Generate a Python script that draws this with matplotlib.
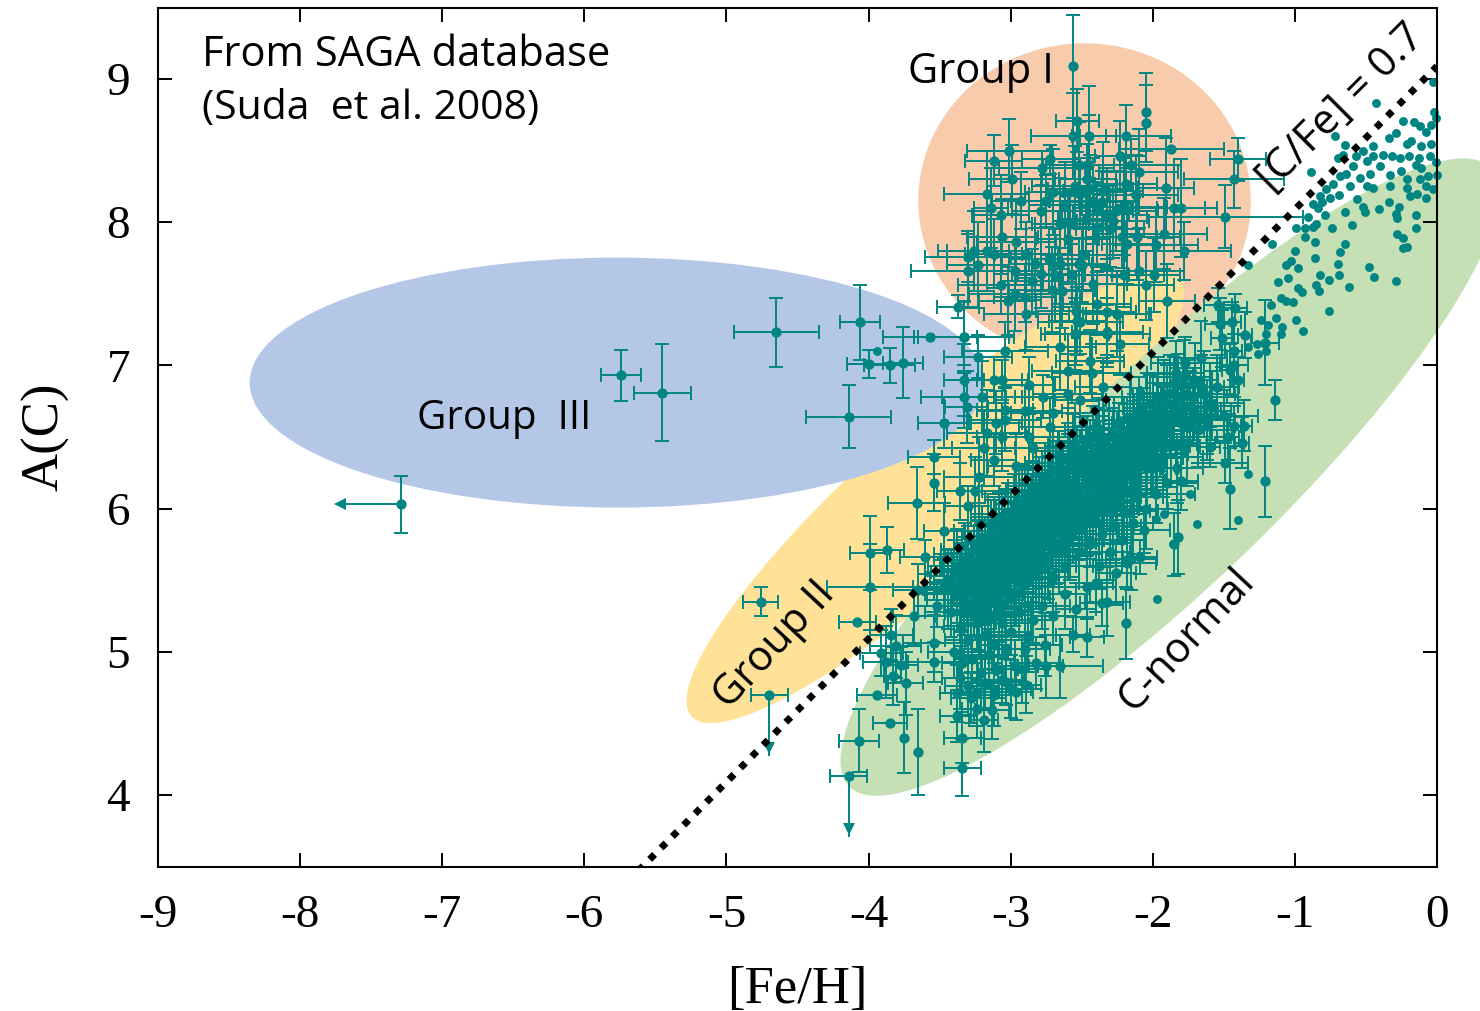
import matplotlib
matplotlib.use("Agg")
import matplotlib.pyplot as plt
from matplotlib.patches import Ellipse

TEAL = '#008682'

# ---- group I cloud
g1_feh = [-2.56,-2.05,-2.05,-2.53,-2.56,-2.45,-2.19,-1.87,-3.12,-3.01,
          -2.99,-3.17,-3.14,-3.07,-2.93,-2.78,-2.72,-2.52,-2.45,-2.46,
          -2.23,-2.15,-2.10,-1.91,-1.85,-1.80,-1.92,-1.78,-1.40,-1.43,
          -1.49,-2.70,-2.75,-2.79,-2.65,-2.58,-2.51,-2.42,-2.39,-2.32,
          -2.39,-2.28,-2.20,-2.12,-2.19,-3.26,-3.30,-3.17,-3.12,-3.06,
          -2.96,-2.89,-3.23,-3.30,-2.97,-2.83,-2.73,-2.65,-2.52,-2.49,
          -3.07,-2.97,-3.02,-2.90,-2.89,-2.85,-2.71,-2.64,-2.79,-2.69,
          -2.57,-2.42,-2.20,-2.10,-1.99,-2.05,-2.22,-2.11,-2.18,-1.98,
          -1.90,-2.39,-2.54,-2.51,-2.32,-2.25,-2.54,-2.32,-3.37,-3.33,
          -2.62,-2.55,-2.47,-2.35,-2.30,-2.44,-2.60,-2.36,-2.26,-2.50]
g1_ac = [9.09,8.77,8.69,8.71,8.60,8.60,8.60,8.51,8.43,8.50,
         8.30,8.20,8.10,8.05,8.15,8.38,8.44,8.40,8.40,8.30,
         8.46,8.40,8.35,8.24,8.10,8.10,7.92,7.80,8.44,8.30,
         8.04,8.21,8.15,8.08,7.99,7.99,8.20,8.15,8.08,8.06,
         7.97,8.01,8.11,8.19,8.27,7.80,7.76,7.80,7.78,7.90,
         7.86,7.78,7.70,7.66,7.66,7.71,7.74,7.71,7.71,7.77,
         7.56,7.50,7.45,7.48,7.36,7.59,7.53,7.52,7.64,7.63,
         7.63,7.57,7.63,7.66,7.63,7.56,7.90,7.90,7.85,7.84,
         7.45,7.43,7.38,7.30,7.37,7.36,7.22,7.23,7.41,7.20,
         8.12,8.25,8.02,8.22,7.95,8.23,7.88,8.14,8.08,7.70]
g1_xerr = [0.00,0.00,0.00,0.15,0.30,0.12,0.32,0.37,0.20,0.30,
           0.30,0.30,0.12,0.20,0.20,0.30,0.20,0.25,0.30,0.20,
           0.18,0.30,0.28,0.20,0.30,0.17,0.30,0.33,0.20,0.35,
           0.55,0.20,0.25,0.20,0.20,0.25,0.20,0.30,0.25,0.15,
           0.20,0.25,0.30,0.30,0.22,0.25,0.30,0.28,0.20,0.25,
           0.28,0.22,0.22,0.40,0.20,0.18,0.28,0.22,0.20,0.30,
           0.30,0.32,0.20,0.22,0.30,0.22,0.30,0.25,0.20,0.26,
           0.28,0.24,0.28,0.32,0.18,0.20,0.25,0.30,0.18,0.30,
           0.20,0.24,0.28,0.30,0.20,0.24,0.22,0.25,0.15,0.35,
           0.25,0.30,0.20,0.28,0.24,0.30,0.22,0.26,0.30,0.20]
g1_yerr = [0.36,0.27,0.27,0.22,0.30,0.35,0.22,0.00,0.18,0.22,
           0.24,0.30,0.28,0.28,0.20,0.12,0.10,0.30,0.35,0.25,
           0.25,0.18,0.30,0.35,0.30,0.34,0.25,0.20,0.15,0.20,
           0.22,0.30,0.18,0.30,0.32,0.22,0.25,0.30,0.20,0.32,
           0.28,0.26,0.34,0.28,0.20,0.28,0.18,0.28,0.24,0.26,
           0.30,0.22,0.30,0.26,0.20,0.25,0.22,0.30,0.18,0.24,
           0.20,0.26,0.24,0.18,0.25,0.22,0.30,0.26,0.24,0.32,
           0.22,0.28,0.22,0.30,0.26,0.24,0.22,0.30,0.28,0.26,
           0.26,0.22,0.28,0.22,0.30,0.26,0.22,0.24,0.08,0.25,
           0.30,0.28,0.22,0.34,0.26,0.24,0.30,0.22,0.28,0.26]

# ---- group III and the low, isolated stars
g3_feh = [-5.74,-5.45,-4.65,-4.06,-4.14,-3.76,-3.85,-4.00,-3.57,-3.33]
g3_ac = [6.93,6.81,7.23,7.30,6.64,7.02,7.00,7.01,7.20,7.20]
g3_xerr = [0.14,0.20,0.30,0.14,0.30,0.14,0.18,0.15,0.33,0.32]
g3_yerr = [0.18,0.34,0.24,0.26,0.22,0.25,0.12,0.10,0.00,0.24]
single_feh = [-3.94]
single_ac = [7.10]

limit_x_feh = [-7.29]
limit_x_ac = [6.03]
limit_x_tip = [-7.72]
limit_x_yerr = [0.20]
limit_y_feh = [-4.70,-4.14]
limit_y_ac = [4.70,4.13]
limit_y_tip = [4.28,3.71]
limit_y_xerr = [0.13,0.13]

# ---- group II strip above the main cloud
g2_feh = [-3.23,-3.04,-3.33,-3.33,-3.12,-3.06,-2.87,-3.20,-3.31,-3.47,
          -2.77,-2.65,-2.44,-2.51,-3.04,-3.04,-2.70,-2.72,-3.17,-3.06,
          -2.87,-3.19,-3.12,-3.54,-3.54,-3.66,-3.30,-3.47,-3.99,-3.87,
          -3.60,-2.55,-2.32,-2.25,-2.53,-2.60,-2.43,-2.23,-4.76,-3.99,
          -4.08,-3.22,-2.96,-2.84,-3.36,-3.25,-3.10,-2.90,-2.60,-2.35]
g2_ac = [7.06,7.10,6.90,6.78,6.90,6.90,6.86,6.78,6.71,6.60,
         6.78,7.13,7.03,6.76,6.69,6.62,6.67,6.57,6.53,6.50,
         6.50,6.42,6.34,6.36,6.18,6.04,6.02,5.84,5.69,5.71,
         5.66,7.22,7.22,7.36,7.31,6.96,6.95,7.15,5.35,5.45,
         5.21,6.22,6.30,6.42,6.12,6.12,6.60,6.68,6.80,6.85]
g2_xerr = [0.24,0.30,0.14,0.30,0.20,0.18,0.18,0.28,0.15,0.18,
           0.20,0.25,0.24,0.18,0.20,0.25,0.30,0.22,0.28,0.18,
           0.20,0.22,0.16,0.18,0.00,0.20,0.16,0.14,0.14,0.12,
           0.18,0.24,0.30,0.22,0.20,0.25,0.28,0.20,0.12,0.30,
           0.13,0.25,0.20,0.28,0.16,0.22,0.18,0.26,0.24,0.20]
g2_yerr = [0.15,0.20,0.25,0.22,0.16,0.14,0.20,0.25,0.25,0.18,
           0.15,0.30,0.22,0.18,0.16,0.22,0.25,0.20,0.30,0.24,
           0.20,0.26,0.18,0.12,0.20,0.25,0.14,0.20,0.26,0.16,
           0.12,0.25,0.20,0.30,0.24,0.26,0.20,0.22,0.10,0.30,
           0.00,0.28,0.22,0.26,0.20,0.24,0.22,0.18,0.28,0.20]

# ---- main dense C-normal band
band_feh = [-3.40,-3.32,-3.24,-3.16,-3.08,-3.00,-2.92,-2.84,-2.76,-2.68,
            -3.44,-3.36,-3.28,-3.20,-3.12,-3.04,-2.96,-2.88,-2.80,-2.72,
            -3.38,-3.30,-3.22,-3.14,-3.06,-2.98,-2.90,-2.82,-2.74,-2.66,
            -3.33,-3.25,-3.17,-3.09,-3.01,-2.93,-2.85,-2.77,-2.69,-2.61,
            -3.28,-3.19,-3.12,-3.03,-2.96,-2.87,-2.80,-2.71,-2.63,-2.55,
            -3.22,-3.14,-3.06,-2.98,-2.90,-2.82,-2.74,-2.66,-2.58,-2.50,
            -3.16,-3.08,-3.00,-2.92,-2.84,-2.76,-2.68,-2.60,-2.52,-2.44,
            -2.60,-2.53,-2.46,-2.39,-2.32,-2.25,-2.18,-2.11,-2.04,-1.97,
            -2.55,-2.47,-2.40,-2.33,-2.26,-2.19,-2.12,-2.05,-1.98,-1.91,
            -2.42,-2.35,-2.28,-2.21,-2.14,-2.07,-2.00,-1.93,-1.86,-1.79,
            -2.38,-2.30,-2.24,-2.16,-2.10,-2.02,-1.96,-1.88,-1.82,-1.74,
            -2.36,-2.28,-2.20,-2.13,-2.05,-1.98,-1.90,-1.83,-1.76,-1.68,
            -1.84,-1.77,-1.70,-1.64,-1.58,-1.71,-1.62,-1.55,-1.50,-1.66]
band_ac = [5.56,5.64,5.71,5.80,5.87,5.96,6.03,6.11,6.20,6.27,
           5.44,5.53,5.60,5.68,5.76,5.84,5.91,6.00,6.08,6.16,
           5.40,5.49,5.57,5.64,5.74,5.81,5.89,5.97,6.05,6.14,
           5.36,5.46,5.52,5.60,5.68,5.76,5.86,5.93,6.01,6.09,
           5.32,5.41,5.48,5.56,5.63,5.72,5.80,5.88,5.96,6.05,
           5.27,5.36,5.44,5.52,5.59,5.68,5.75,5.83,5.92,6.00,
           5.22,5.31,5.38,5.46,5.55,5.62,5.71,5.78,5.87,5.95,
           6.36,6.29,6.22,6.15,6.08,6.05,6.13,6.20,6.28,6.35,
           6.44,6.37,6.32,6.26,6.20,6.27,6.34,6.41,6.47,6.54,
           6.50,6.43,6.40,6.45,6.51,6.56,6.60,6.63,6.68,6.72,
           5.90,5.98,6.56,6.62,6.68,6.73,6.78,6.81,6.86,6.62,
           6.02,6.00,5.98,6.08,6.00,6.10,6.18,6.28,6.46,6.55,
           6.95,7.02,6.90,6.80,6.72,6.68,6.62,6.85,6.65,7.05]
band_xerr = [0.20,0.18,0.25,0.22,0.16,0.28,0.20,0.24,0.18,0.26,
             0.18,0.24,0.20,0.16,0.28,0.22,0.20,0.26,0.18,0.24,
             0.22,0.16,0.26,0.20,0.18,0.24,0.28,0.20,0.16,0.22,
             0.26,0.20,0.18,0.24,0.22,0.16,0.20,0.28,0.24,0.18,
             0.16,0.28,0.22,0.20,0.26,0.18,0.24,0.20,0.22,0.16,
             0.24,0.20,0.16,0.26,0.18,0.22,0.28,0.20,0.24,0.18,
             0.20,0.24,0.28,0.18,0.16,0.22,0.20,0.26,0.18,0.24,
             0.22,0.18,0.26,0.20,0.24,0.16,0.28,0.20,0.22,0.18,
             0.18,0.26,0.20,0.22,0.16,0.24,0.20,0.28,0.18,0.22,
             0.24,0.20,0.16,0.26,0.22,0.18,0.28,0.20,0.24,0.16,
             0.20,0.28,0.22,0.18,0.24,0.16,0.26,0.20,0.18,0.24,
             0.26,0.18,0.24,0.20,0.16,0.28,0.22,0.18,0.20,0.24,
             0.20,0.24,0.16,0.22,0.18,0.26,0.20,0.16,0.24,0.18]
band_yerr = [0.22,0.26,0.20,0.30,0.24,0.18,0.28,0.22,0.26,0.20,
             0.28,0.20,0.24,0.26,0.18,0.30,0.22,0.24,0.28,0.20,
             0.20,0.30,0.24,0.18,0.26,0.22,0.28,0.20,0.30,0.24,
             0.24,0.18,0.28,0.22,0.30,0.20,0.26,0.24,0.18,0.28,
             0.30,0.22,0.20,0.26,0.24,0.28,0.18,0.30,0.22,0.26,
             0.26,0.28,0.22,0.18,0.30,0.24,0.20,0.26,0.28,0.22,
             0.22,0.24,0.30,0.26,0.20,0.28,0.24,0.18,0.22,0.30,
             0.24,0.28,0.20,0.26,0.22,0.30,0.18,0.24,0.28,0.20,
             0.30,0.20,0.26,0.22,0.28,0.18,0.24,0.30,0.20,0.26,
             0.22,0.26,0.30,0.18,0.24,0.28,0.20,0.22,0.26,0.30,
             0.26,0.22,0.18,0.30,0.24,0.20,0.28,0.26,0.22,0.18,
             0.24,0.30,0.22,0.26,0.28,0.20,0.18,0.24,0.30,0.26,
             0.22,0.18,0.26,0.30,0.24,0.20,0.28,0.22,0.18,0.26]

# ---- stars between the rows above, same band
fill_feh = [-3.36,-3.28,-3.20,-3.12,-3.04,-2.96,-2.88,-2.80,-2.72,-2.64,
            -3.30,-3.22,-3.14,-3.06,-2.98,-2.90,-2.82,-2.74,-2.66,-2.58,
            -3.26,-3.18,-3.10,-3.02,-2.94,-2.86,-2.78,-2.70,-2.62,-2.54,
            -3.20,-3.12,-3.04,-2.96,-2.88,-2.80,-2.72,-2.64,-2.56,-2.48,
            -3.14,-3.06,-2.98,-2.90,-2.82,-2.74,-2.66,-2.58,-2.50,-2.42,
            -2.58,-2.50,-2.42,-2.36,-2.29,-2.22,-2.15,-2.08,-2.01,-1.94,
            -2.50,-2.43,-2.36,-2.30,-2.23,-2.16,-2.09,-2.02,-1.95,-1.88,
            -2.38,-2.31,-2.25,-2.18,-2.11,-2.04,-1.97,-1.90,-1.84,-1.76]
fill_ac = [5.50,5.58,5.66,5.74,5.82,5.90,5.98,6.05,6.13,6.22,
           5.42,5.52,5.60,5.68,5.77,5.84,5.92,6.01,6.08,6.18,
           5.36,5.44,5.53,5.62,5.68,5.78,5.85,5.94,6.03,6.11,
           5.31,5.40,5.48,5.56,5.64,5.73,5.80,5.89,5.97,6.06,
           5.26,5.34,5.42,5.51,5.60,5.67,5.76,5.84,5.92,6.01,
           6.30,6.25,6.18,6.20,6.14,6.20,6.22,6.30,6.38,6.44,
           6.40,6.35,6.28,6.34,6.30,6.40,6.46,6.52,6.58,6.60,
           6.55,6.50,6.48,6.55,6.60,6.65,6.70,6.74,6.78,6.80]
fill_xerr = [0.18,0.22,0.26,0.16,0.20,0.24,0.18,0.28,0.22,0.20,
             0.24,0.16,0.20,0.28,0.22,0.18,0.26,0.20,0.24,0.16,
             0.20,0.26,0.18,0.22,0.16,0.28,0.20,0.24,0.18,0.22,
             0.16,0.24,0.22,0.18,0.26,0.20,0.16,0.22,0.28,0.18,
             0.28,0.18,0.16,0.24,0.20,0.22,0.26,0.18,0.20,0.24,
             0.22,0.16,0.24,0.20,0.28,0.18,0.22,0.16,0.26,0.20,
             0.18,0.24,0.20,0.16,0.22,0.28,0.18,0.24,0.20,0.26,
             0.24,0.20,0.28,0.22,0.18,0.16,0.24,0.20,0.22,0.18]
fill_yerr = [0.24,0.20,0.28,0.22,0.18,0.26,0.30,0.20,0.24,0.22,
             0.18,0.28,0.24,0.20,0.26,0.22,0.30,0.18,0.24,0.28,
             0.26,0.22,0.18,0.30,0.24,0.20,0.28,0.22,0.26,0.18,
             0.20,0.30,0.26,0.22,0.18,0.28,0.24,0.20,0.22,0.30,
             0.28,0.24,0.22,0.18,0.26,0.30,0.20,0.24,0.18,0.22,
             0.20,0.26,0.18,0.24,0.30,0.22,0.28,0.20,0.24,0.18,
             0.24,0.18,0.28,0.22,0.20,0.26,0.30,0.24,0.18,0.22,
             0.22,0.28,0.20,0.18,0.24,0.30,0.22,0.26,0.20,0.24]

core_feh = [-3.38,-3.30,-3.22,-3.14,-3.06,-2.98,-2.90,-2.82,-2.74,-2.66,
            -3.41,-3.34,-3.26,-3.18,-3.10,-3.02,-2.94,-2.86,-2.78,-2.70,
            -3.35,-3.27,-3.19,-3.11,-3.03,-2.95,-2.87,-2.79,-2.71,-2.63,
            -3.31,-3.23,-3.15,-3.07,-2.99,-2.91,-2.83,-2.75,-2.67,-2.59,
            -3.24,-3.16,-3.08,-3.00,-2.92,-2.84,-2.76,-2.68,-2.60,-2.52,
            -3.18,-3.10,-3.02,-2.94,-2.86,-2.78,-2.70,-2.62,-2.54,-2.46,
            -3.12,-3.04,-2.96,-2.88,-2.80,-2.72,-2.64,-2.56,-2.48,-2.40,
            -3.06,-2.98,-2.90,-2.82,-2.74,-2.66,-2.58,-2.50,-2.42,-2.34,
            -2.56,-2.49,-2.44,-2.37,-2.31,-2.24,-2.17,-2.10,-2.03,-1.96,
            -2.46,-2.39,-2.34,-2.27,-2.20,-2.13,-2.06,-1.99,-1.92,-1.85,
            -2.34,-2.27,-2.20,-2.14,-2.08,-2.00,-1.93,-1.87,-1.80,-1.72,
            -1.92,-1.85,-1.78,-1.72,-1.66,-1.60,-1.80,-1.74,-1.68,-1.62]
core_ac = [5.60,5.68,5.76,5.84,5.92,6.00,6.08,6.16,6.24,6.32,
           5.49,5.56,5.64,5.72,5.80,5.88,5.96,6.04,6.12,6.20,
           5.45,5.53,5.61,5.69,5.77,5.85,5.93,6.01,6.09,6.17,
           5.41,5.49,5.57,5.65,5.73,5.81,5.89,5.97,6.05,6.13,
           5.38,5.46,5.54,5.62,5.70,5.78,5.86,5.94,6.02,6.10,
           5.36,5.44,5.52,5.60,5.68,5.76,5.84,5.92,6.00,6.08,
           5.34,5.42,5.50,5.58,5.66,5.74,5.82,5.90,5.98,6.06,
           5.32,5.40,5.48,5.56,5.64,5.72,5.80,5.88,5.96,6.04,
           6.40,6.33,6.38,6.31,6.39,6.33,6.42,6.37,6.46,6.50,
           6.47,6.42,6.47,6.52,6.48,6.56,6.52,6.60,6.66,6.70,
           6.20,6.25,6.32,6.28,6.35,6.28,6.36,6.45,6.60,6.68,
           6.80,6.88,6.92,6.78,6.85,6.74,6.66,6.72,6.62,6.58]
core_xerr = [0.20,0.24,0.18,0.26,0.22,0.16,0.28,0.20,0.18,0.24,
             0.16,0.22,0.28,0.20,0.24,0.18,0.26,0.22,0.16,0.20,
             0.24,0.18,0.22,0.16,0.28,0.20,0.24,0.18,0.26,0.22,
             0.28,0.20,0.16,0.24,0.18,0.22,0.26,0.20,0.16,0.24,
             0.18,0.26,0.22,0.20,0.16,0.24,0.28,0.18,0.22,0.20,
             0.22,0.16,0.24,0.28,0.20,0.18,0.22,0.26,0.24,0.16,
             0.26,0.22,0.18,0.16,0.24,0.20,0.28,0.22,0.18,0.26,
             0.16,0.24,0.20,0.22,0.28,0.18,0.16,0.24,0.26,0.20,
             0.20,0.18,0.28,0.24,0.16,0.22,0.20,0.26,0.18,0.24,
             0.24,0.26,0.16,0.18,0.22,0.28,0.20,0.24,0.16,0.22,
             0.18,0.22,0.26,0.20,0.24,0.16,0.28,0.18,0.22,0.20,
             0.22,0.20,0.18,0.24,0.16,0.20,0.26,0.18,0.22,0.24]
core_yerr = [0.26,0.20,0.28,0.22,0.18,0.24,0.20,0.30,0.26,0.22,
             0.20,0.28,0.24,0.18,0.26,0.30,0.22,0.20,0.28,0.24,
             0.30,0.22,0.18,0.26,0.20,0.28,0.24,0.22,0.18,0.30,
             0.22,0.26,0.30,0.20,0.24,0.18,0.28,0.26,0.22,0.20,
             0.18,0.24,0.22,0.28,0.30,0.20,0.26,0.18,0.24,0.28,
             0.28,0.20,0.26,0.24,0.22,0.30,0.18,0.28,0.20,0.26,
             0.24,0.30,0.20,0.18,0.28,0.22,0.26,0.24,0.30,0.18,
             0.20,0.22,0.28,0.26,0.18,0.24,0.30,0.20,0.22,0.28,
             0.26,0.18,0.24,0.30,0.20,0.28,0.22,0.26,0.18,0.24,
             0.18,0.28,0.22,0.26,0.30,0.24,0.20,0.18,0.28,0.22,
             0.30,0.24,0.18,0.22,0.26,0.20,0.28,0.30,0.24,0.18,
             0.24,0.18,0.26,0.20,0.22,0.28,0.18,0.24,0.30,0.20]

# ---- lower tail of the C-normal cloud
low_feh = [-4.07,-3.85,-3.94,-3.75,-3.65,-3.74,-3.83,-3.91,-3.81,-3.88,
           -3.77,-3.54,-3.54,-3.84,-3.34,-3.34,-3.38,-3.38,-3.19,-3.13,
           -3.24,-3.28,-3.03,-2.96,-2.89,-2.75,-2.65,-2.46,-2.56,-2.19,
           -2.36,-2.15,-2.09,-1.85,-1.82,-3.65,-3.68,-3.52,-3.47,-3.42,
           -3.35,-3.30,-3.24,-3.18,-3.12,-3.06,-3.00,-2.94,-2.88,-3.40,
           -3.34,-3.27,-3.21,-3.15,-3.09,-3.03,-2.97,-2.90,-2.84,-3.36,
           -3.30,-3.24,-3.18,-3.12,-3.06,-3.00,-2.92,-2.82,-2.76,-2.78,
           -2.70,-2.62,-2.54,-2.46,-2.38,-2.30,-2.70,-2.62,-2.52,-2.44,
           -2.36,-2.28,-2.22,-2.14,-2.06,-2.40,-2.32,-2.18,-2.26,-1.49,
           -1.46,-1.21,-1.21,-1.14,-1.43,-1.43,-1.46,-1.40,-1.54,-1.42,
           -1.44,-1.53,-1.35,-1.51,-1.43,-1.36,-1.47,-1.37,-1.60,-1.80]
low_ac = [4.38,4.50,4.70,4.40,4.30,4.78,4.83,4.99,5.04,4.93,
          4.91,4.93,5.06,5.12,4.40,4.19,4.71,4.55,4.52,4.59,
          4.60,4.68,4.79,4.72,4.77,4.90,4.90,5.10,5.12,5.20,
          5.34,5.65,5.66,5.75,5.80,5.43,5.25,5.32,5.45,5.28,
          5.18,5.08,5.20,5.12,5.05,5.20,5.14,5.28,5.10,5.00,
          4.92,4.95,4.85,4.98,4.88,5.02,4.90,5.02,5.22,4.82,
          4.76,4.72,4.78,4.70,4.80,4.74,4.88,4.92,5.05,5.32,
          5.25,5.40,5.30,5.45,5.60,5.70,5.52,5.60,5.70,5.75,
          5.82,5.88,5.78,5.90,5.85,5.48,5.35,5.62,5.55,6.32,
          6.14,6.19,7.16,6.76,7.10,7.00,6.97,6.90,7.42,7.40,
          7.30,7.29,7.21,7.19,6.58,6.58,6.50,6.46,6.43,6.19]
low_xerr = [0.14,0.12,0.14,0.00,0.00,0.12,0.06,0.15,0.18,0.16,
            0.12,0.20,0.22,0.15,0.13,0.13,0.12,0.12,0.10,0.12,
            0.10,0.14,0.12,0.12,0.10,0.12,0.30,0.12,0.12,0.00,
            0.15,0.18,0.12,0.00,0.00,0.18,0.15,0.16,0.14,0.18,
            0.12,0.16,0.14,0.18,0.12,0.20,0.14,0.16,0.12,0.18,
            0.14,0.12,0.16,0.18,0.14,0.12,0.16,0.18,0.14,0.12,
            0.16,0.14,0.18,0.12,0.16,0.14,0.18,0.16,0.12,0.20,
            0.16,0.18,0.14,0.20,0.16,0.14,0.18,0.20,0.16,0.14,
            0.18,0.20,0.16,0.14,0.18,0.12,0.16,0.20,0.14,0.16,
            0.00,0.00,0.10,0.00,0.06,0.10,0.05,0.04,0.10,0.08,
            0.06,0.10,0.05,0.08,0.05,0.06,0.08,0.05,0.07,0.12]
low_yerr = [0.22,0.00,0.00,0.25,0.30,0.22,0.20,0.16,0.22,0.25,
            0.12,0.14,0.20,0.18,0.18,0.20,0.20,0.18,0.22,0.20,
            0.20,0.18,0.16,0.20,0.20,0.22,0.22,0.14,0.12,0.25,
            0.16,0.22,0.12,0.22,0.26,0.18,0.20,0.15,0.20,0.18,
            0.22,0.16,0.20,0.24,0.18,0.22,0.16,0.20,0.24,0.18,
            0.22,0.16,0.24,0.18,0.20,0.22,0.18,0.24,0.16,0.22,
            0.20,0.24,0.18,0.22,0.16,0.20,0.24,0.18,0.22,0.16,
            0.20,0.24,0.18,0.22,0.16,0.20,0.24,0.18,0.22,0.16,
            0.20,0.24,0.18,0.22,0.16,0.20,0.24,0.18,0.22,0.14,
            0.28,0.25,0.30,0.14,0.20,0.22,0.18,0.16,0.12,0.10,
            0.14,0.18,0.16,0.20,0.14,0.18,0.16,0.18,0.14,0.20]

# ---- stars without error bars (upper right)
bare_feh = [-0.03,-0.43,-0.72,-0.65,-0.24,-0.16,-0.12,-0.02,-0.01,-0.04,
            -0.08,-0.29,-0.34,-0.18,-0.21,-0.04,-0.11,-0.45,-0.70,-0.66,
            -0.52,-0.57,-0.49,-0.45,-0.38,-0.32,-0.26,-0.20,-0.13,-0.05,
            -0.01,-0.59,-0.64,-0.68,-0.73,-0.78,-0.82,-0.87,-0.89,-0.81,
            -0.75,-0.69,-0.61,-0.54,-0.47,-0.40,-0.33,-0.25,-0.15,-0.11,
            0.00,-0.06,-0.12,-0.21,-0.49,-0.45,-0.33,-0.21,-0.08,-0.03,
            -0.19,-0.14,-0.08,-0.56,-0.52,-0.51,-0.41,-0.34,-0.27,-0.29,
            -0.28,-0.15,-0.15,-0.60,-0.74,-0.65,-0.79,-0.91,-0.85,-0.87,
            -0.99,-0.93,-0.93,-0.86,-1.16,-1.00,-0.65,-0.68,-0.28,-0.24,
            -0.21,-0.24,-0.86,-0.70,-1.03,-1.06,-0.98,-1.33,-0.48,-0.69,
            -0.82,-0.76,-0.44,-0.29,-0.62,-0.85,-0.83,-1.05,-1.12,-0.98,
            -0.95,-1.10,-1.06,-1.01,-1.17,-0.76,-0.99,-1.13,-1.24,-1.43,
            -1.44,-1.19,-1.09,-1.10,-0.94,-1.20,-1.27,-1.20,-1.33,-1.26,
            -1.33,-1.40,-1.69,-1.86,-1.83,-1.98,-1.92,-1.97,-1.74,-0.84]
bare_ac = [8.98,8.83,8.60,8.54,8.71,8.70,8.67,8.77,8.73,8.68,
           8.63,8.62,8.59,8.57,8.55,8.55,8.53,8.53,8.45,8.47,
           8.50,8.46,8.43,8.46,8.47,8.46,8.45,8.46,8.45,8.46,
           8.42,8.39,8.34,8.32,8.27,8.23,8.18,8.13,8.35,8.14,
           8.17,8.19,8.25,8.31,8.34,8.39,8.33,8.36,8.40,8.38,
           8.33,8.32,8.30,8.30,8.25,8.24,8.25,8.24,8.25,8.23,
           8.18,8.20,8.17,8.16,8.11,8.07,8.09,8.14,8.11,8.06,
           8.03,8.05,7.96,7.98,7.96,8.07,8.05,8.04,7.99,7.97,
           7.96,7.96,7.90,7.86,7.85,7.80,7.85,7.79,7.92,7.89,
           7.83,7.82,7.75,7.71,7.73,7.70,7.68,7.70,7.69,7.63,
           7.63,7.60,7.62,7.59,7.55,7.56,7.52,7.61,7.58,7.54,
           7.51,7.47,7.45,7.44,7.42,7.38,7.32,7.33,7.32,7.40,
           7.30,7.28,7.27,7.22,7.24,7.22,7.15,7.10,7.13,7.08,
           6.24,5.92,5.89,5.75,5.80,5.93,5.96,5.37,6.10,8.10]

tick_x = [-9,-8,-7,-6,-5,-4,-3,-2,-1,0]
tick_y = [4,5,6,7,8,9]
solar_c = 8.39
cfe_limit = 0.7
line_feh = [-5.70, 0.0]

fig = plt.figure(figsize=(14.8, 10.11), dpi=100)
ax = fig.add_axes([158/1480, 1-866.5/1011, (1437-158)/1480, (866.5-7.5)/1011])
ax.set_xlim(-9, 0)
ax.set_ylim(3.5, 9.5)

# regions
ax.add_patch(Ellipse((-2.48, 8.15), 2.34, 2.20, color='#f8cbad', lw=0, zorder=1))
ax.add_patch(Ellipse((-3.53, 6.08), 4.60, 1.04, angle=41.7, color='#ffe198', lw=0, zorder=1.1))
ax.add_patch(Ellipse((-5.77, 6.88), 5.17, 1.746, color='#b4c7e7', lw=0, zorder=1.2))
ax.add_patch(Ellipse((-1.88, 6.22), 6.25, 1.50, angle=43.7, color='#c5e0b4', lw=0,
                     zorder=1.3, clip_on=False))


def present(errs):
    # a star with no bar on one axis is listed with 0.00
    return [v if v > 0 else float('nan') for v in errs]


ekw = dict(fmt='o', color=TEAL, ms=6.4, elinewidth=1.4, capsize=5, capthick=1.4, zorder=3)
for xs, ys, xe, ye in [(g1_feh, g1_ac, g1_xerr, g1_yerr),
                       (g2_feh, g2_ac, g2_xerr, g2_yerr),
                       (g3_feh, g3_ac, g3_xerr, g3_yerr),
                       (band_feh, band_ac, band_xerr, band_yerr),
                       (fill_feh, fill_ac, fill_xerr, fill_yerr),
                       (core_feh, core_ac, core_xerr, core_yerr),
                       (low_feh, low_ac, low_xerr, low_yerr)]:
    ax.errorbar(xs, ys, xerr=present(xe), yerr=present(ye), **ekw)

ax.plot(bare_feh, bare_ac, 'o', color=TEAL, ms=6.4, mew=0, zorder=3, clip_on=False)
ax.plot(single_feh, single_ac, 'o', color=TEAL, ms=6.4, mew=0, zorder=3)

# limits
for x, y, tip, ye in zip(limit_x_feh, limit_x_ac, limit_x_tip, limit_x_yerr):
    ax.errorbar([x], [y], yerr=[ye], **ekw)
    ax.plot([x, tip], [y, y], color=TEAL, lw=1.4, zorder=3)
    ax.plot([tip], [y], '<', color=TEAL, ms=8, mew=0, zorder=3)
for x, y, tip, xe in zip(limit_y_feh, limit_y_ac, limit_y_tip, limit_y_xerr):
    ax.errorbar([x], [y], xerr=[xe], **ekw)
    ax.plot([x, x], [y, tip], color=TEAL, lw=1.4, zorder=3)
    ax.plot([x], [tip + 0.05], 'v', color=TEAL, ms=8, mew=0, zorder=3)

# [C/Fe] limit
ax.plot(line_feh, [v + cfe_limit + solar_c for v in line_feh], color='black', lw=5.0,
        linestyle=(0, (1, 1.32)), dash_capstyle='butt', zorder=4)

# ticks
ax.set_xticks(tick_x)
ax.set_yticks(tick_y)
ax.set_xticklabels([str(v) for v in tick_x])
ax.set_yticklabels([str(v) for v in tick_y])
ax.tick_params(direction='in', top=True, right=True, length=10, width=1.4,
               labelsize=34, labelfontfamily='Liberation Serif', zorder=5)
ax.tick_params(axis='x', pad=20)
ax.tick_params(axis='y', pad=20)
for s in ax.spines.values():
    s.set_linewidth(1.5)
    s.set_zorder(6)
ax.set_xlabel('[Fe/H]', fontsize=38, family='Liberation Serif', labelpad=21)
ax.set_ylabel('A(C)', fontsize=38, family='Liberation Serif', labelpad=27)

# annotations
tkw = dict(family='Open Sans', color='black', zorder=7)
ax.text(-8.69, 9.17, 'From SAGA database', fontsize=30, va='center', **tkw)
ax.text(-8.69, 8.79, '(Suda  et al. 2008)', fontsize=29.5, va='center', **tkw)
ax.text(-3.72, 9.05, 'Group I', fontsize=30, va='center', **tkw)
ax.text(-7.18, 6.63, 'Group  III', fontsize=29, va='center', **tkw)
ax.text(-4.66, 5.05, 'Group II', fontsize=30, va='center', ha='center', rotation=47,
        rotation_mode='anchor', **tkw)
ax.text(-1.76, 5.08, 'C-normal', fontsize=30, va='center', ha='center', rotation=47,
        rotation_mode='anchor', **tkw)
ax.text(-0.68, 8.80, '[C/Fe] = 0.7', fontsize=30, va='center', ha='center', rotation=45,
        rotation_mode='anchor', **tkw)

fig.savefig('out.png', dpi=100)
